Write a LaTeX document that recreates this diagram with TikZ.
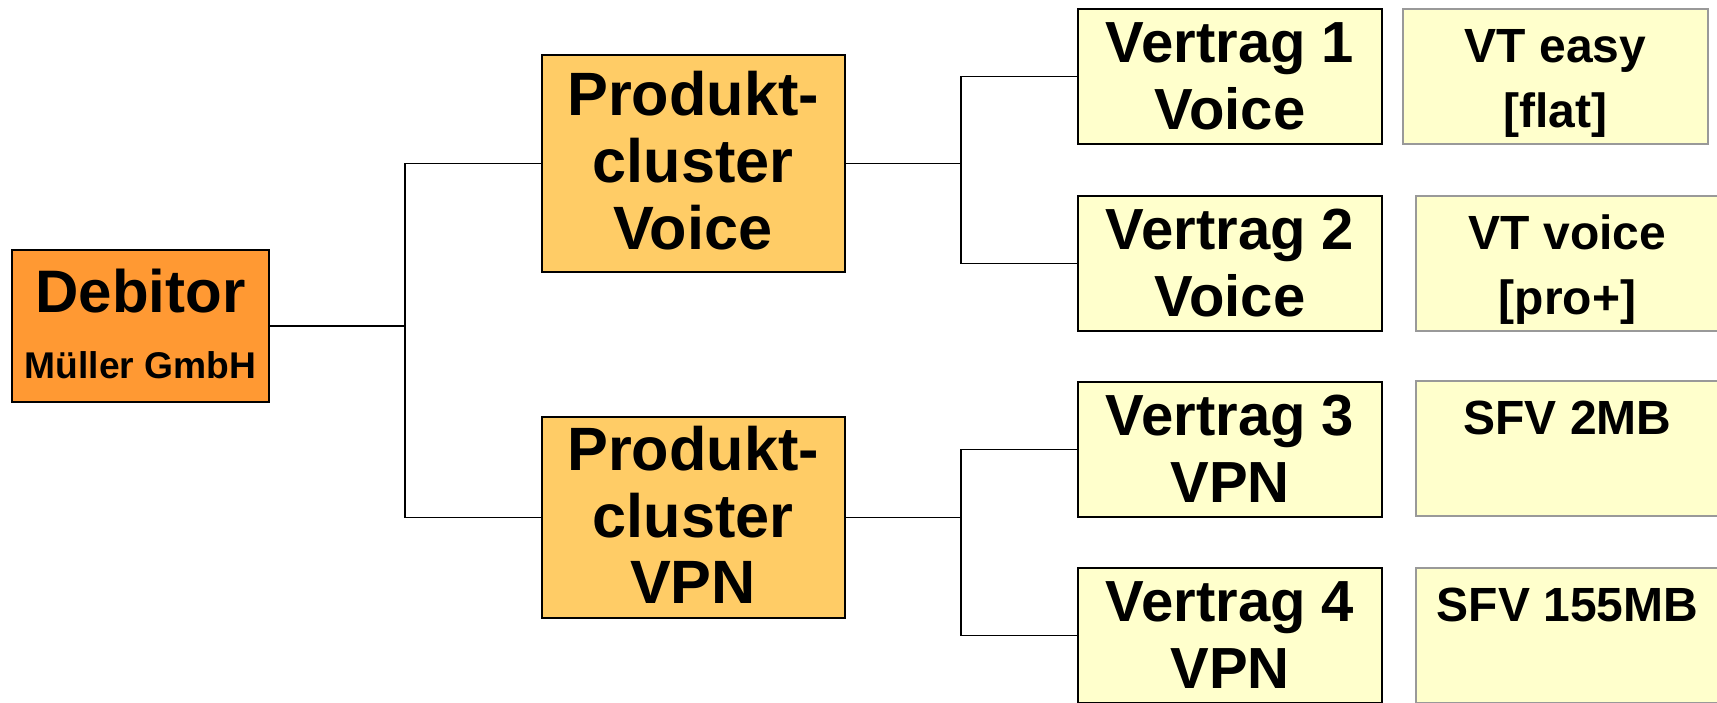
\documentclass[tikz,border=0pt]{standalone}
\usepackage{fontspec}
\setmainfont{Liberation Sans}
\definecolor{debfill}{RGB}{255,153,51}
\definecolor{clusterfill}{RGB}{255,204,102}
\definecolor{contractfill}{RGB}{255,255,204}
\definecolor{tariffedge}{RGB}{153,153,153}
% one line of text, its baseline #3 px below the top of box #2
\newcommand\boxline[5]{%
  \node[anchor=base, inner sep=0pt, font=\bfseries\fontsize{#4}{#4}\selectfont]
    (#1) at ([yshift={-#3*0.5pt}]#2.north) {#5};}
\begin{document}
\begin{tikzpicture}[x=0.5pt, y=-0.5pt,
  box/.style={line width=1pt, inner sep=0pt, minimum width={#1*0.5pt}},
  debitor/.style={box=257, draw=black, fill=debfill, minimum height={152*0.5pt}},
  cluster/.style={box=303, draw=black, fill=clusterfill},
  contract/.style={box=304, draw=black, fill=contractfill, minimum height={135*0.5pt}},
  tariff/.style={box=#1, draw=tariffedge, fill=contractfill, minimum height={135*0.5pt}},
  tariff/.default=303,
  link/.style={line width=0.9pt, black}]
\useasboundingbox (0,0) rectangle (1717,702);
\fill[white] (0,0) rectangle (1717,702);

% debtor
\node[debitor] (deb) at (140.5,326) {};
\boxline{deb1}{deb}{63}{30}{Debitor}
\boxline{deb2}{deb}{129}{18.6}{Müller GmbH}

% product clusters
\node[cluster, minimum height={217*0.5pt}] (pcv) at (693,163.5) {};
\boxline{pcv1}{pcv}{61}{30.6}{Produkt-}
\boxline{pcv2}{pcv}{128}{30.6}{cluster}
\boxline{pcv3}{pcv}{195}{30.6}{Voice}

\node[cluster, minimum height={201*0.5pt}] (pcn) at (693,517.5) {};
\boxline{pcn1}{pcn}{54}{30.6}{Produkt-}
\boxline{pcn2}{pcn}{121}{30.6}{cluster}
\boxline{pcn3}{pcn}{187}{30.6}{VPN}

% contracts
\node[contract] (v1) at (1230,76.5) {};
\node[contract] (v2) at (1230,263.5) {};
\node[contract] (v3) at (1230,449.5) {};
\node[contract] (v4) at (1230,635.5) {};
\boxline{v1a}{v1}{54}{29}{Vertrag 1}
\boxline{v1b}{v1}{121}{29}{Voice}
\boxline{v2a}{v2}{54}{29}{Vertrag 2}
\boxline{v2b}{v2}{121}{29}{Voice}
\boxline{v3a}{v3}{54}{29}{Vertrag 3}
\boxline{v3b}{v3}{121}{29}{VPN}
\boxline{v4a}{v4}{54}{29}{Vertrag 4}
\boxline{v4b}{v4}{121}{29}{VPN}

% tariffs
\node[tariff=305] (r1) at (1555.5,76.5) {};
\node[tariff] (r2) at (1567.5,263.5) {};
\node[tariff] (r3) at (1567.5,448.5) {};
\node[tariff] (r4) at (1567.5,635.5) {};
\boxline{r1a}{r1}{54}{24}{VT easy}
\boxline{r1b}{r1}{119}{24}{[flat]}
\boxline{r2a}{r2}{54}{24}{VT voice}
\boxline{r2b}{r2}{119}{24}{[pro+]}
\boxline{r3a}{r3}{54}{24}{SFV 2MB}
\boxline{r4a}{r4}{54}{24}{SFV 155MB}

% connectors
\coordinate (j0) at (405,326);
\coordinate (j1) at (961,163.5);
\coordinate (j2) at (961,517.5);
\draw[link] (deb.east) -- (j0);
\draw[link] (pcv.west) -| (j0) |- (pcn.west);
\draw[link] (pcv.east) -- (j1);
\draw[link] (v1.west) -| (j1) |- (v2.west);
\draw[link] (pcn.east) -- (j2);
\draw[link] (v3.west) -| (j2) |- (v4.west);
\end{tikzpicture}
\end{document}
